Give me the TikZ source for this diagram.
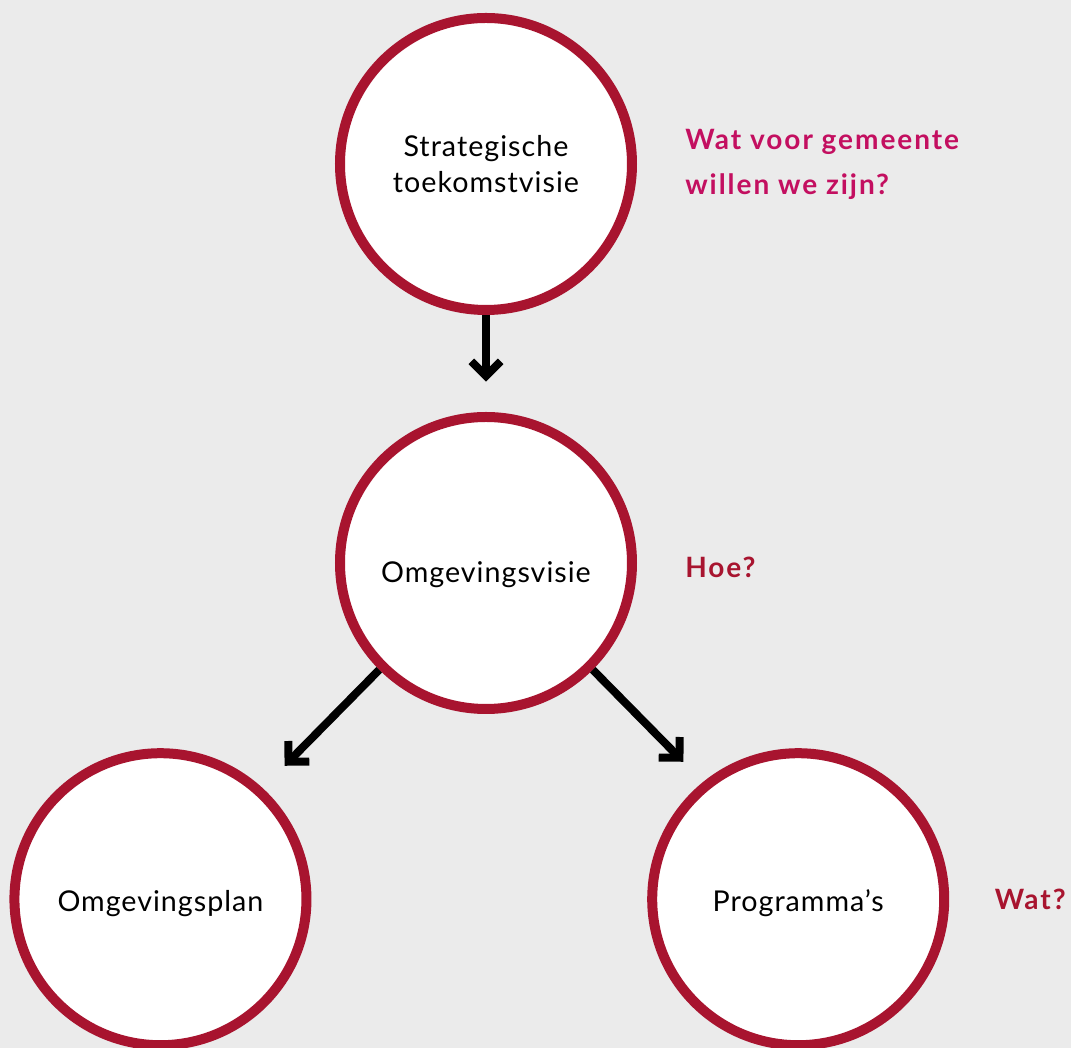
\documentclass[tikz,border=0pt]{standalone}
\usepackage{fontspec}
\setmainfont{Lato}[LetterSpace=3.5]
\usepackage{tikz}
\usetikzlibrary{calc}
\usetikzlibrary{positioning}
\usetikzlibrary{arrows.meta}
\definecolor{Ringcol}{HTML}{A8142F}
\definecolor{Askcol}{HTML}{C30F60}
\definecolor{Bgcol}{HTML}{EBEBEB}
\tikzset{>={Straight Barb[sharp,length=11pt,width=22pt]}}
\tikzset{
  stage/.style={circle,draw=Ringcol,line width=7.5pt,fill=white,minimum size=219pt,inner sep=0pt,align=center,font=\fontsize{21.5}{27.5}\selectfont},
  flow/.style={->,line width=6pt,black},
  question/.style={inner sep=0pt,align=left,font=\fontsize{21}{33.75}\selectfont\bfseries\addfontfeatures{LetterSpace=7}},
}

\begin{document}
\begin{tikzpicture}
    \useasboundingbox (-364.5pt,-363.75pt) rectangle (438.75pt,422.25pt);
    \fill[Bgcol] (-364.5pt,-363.75pt) rectangle (438.75pt,422.25pt);
    \node[stage,text height=33pt] (visie) {Omgevingsvisie};
    \node[stage,above=72.75pt of visie] (toekomst) {Strategische\\toekomstvisie};
    \node[stage,text height=22pt,below left=92pt and 84pt of visie] (plan) {Omgevingsplan};
    \node[stage,text height=22pt,below right=92pt and 74pt of visie] (prog) {Programma’s};
    \node[question,Askcol,right=36pt of toekomst] (watvoor) {Wat voor gemeente\\willen we zijn?};
    \node[question,Ringcol,right=36pt of visie,yshift=-3pt] (hoe) {Hoe?};
    \node[question,Ringcol,right=34pt of prog] (wat) {Wat?};
    \coordinate (downtip) at ($(toekomst.south)+(0,-50pt)$);
    \coordinate (plantip) at ($(visie.-135)+(-71pt,-72pt)$);
    \coordinate (progtip) at ($(visie.-45)+(68pt,-69pt)$);
    \draw[flow] (toekomst) -- (downtip);
    \draw[flow] (visie.-135) -- (plantip);
    \draw[flow] (visie.-45) -- (progtip);
\end{tikzpicture}
\end{document}
